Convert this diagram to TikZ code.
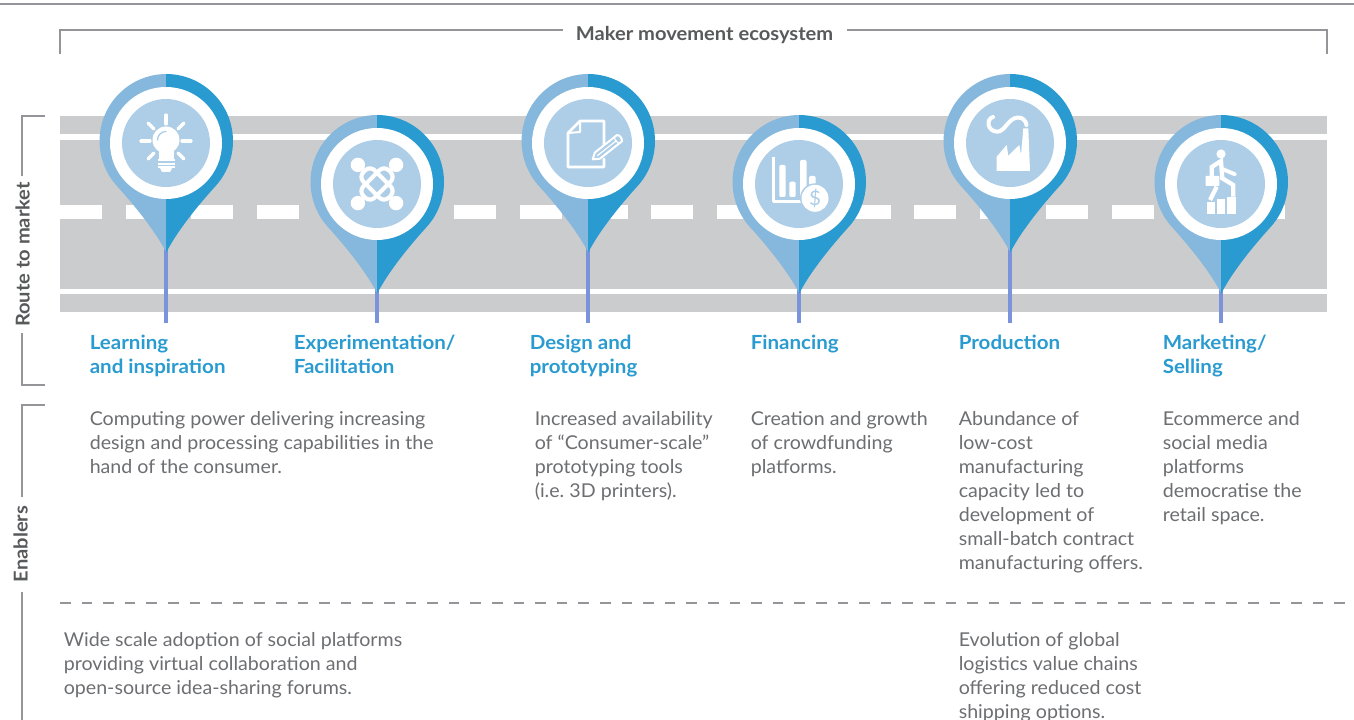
\documentclass[tikz,border=0pt]{standalone}
\usepackage{fontspec}
\setmainfont[FakeStretch=1.03]{Lato}
\newfontfamily\widefont[FakeStretch=1.055]{Lato}
\frenchspacing
\definecolor{roadgray}{HTML}{CBCCCE}
\definecolor{pinlight}{HTML}{85B8DC}
\definecolor{pindark}{HTML}{2A9BD0}
\definecolor{pininner}{HTML}{AECEE8}
\definecolor{stemblue}{HTML}{7B93DB}
\definecolor{titlegray}{HTML}{58595B}
\definecolor{bodygray}{HTML}{6D6E71}
\definecolor{rulegray}{HTML}{939598}
\newcommand\firstline{\rule{0pt}{10.5pt}}
\tikzset{
  road/.style={fill=roadgray,draw=none},
  dashmark/.style={fill=white,draw=none},
  stemline/.style={draw=stemblue,line width=2.6pt},
  bracket/.style={draw=rulegray,line width=1.3pt},
  sectitle/.style={inner sep=0pt,text=titlegray,font=\widefont\fontsize{14.3pt}{18pt}\selectfont\bfseries},
  heading/.style={anchor=north west,align=left,inner sep=0pt,text=pindark,font=\widefont\fontsize{14.6pt}{18pt}\selectfont\bfseries},
  bodytext/.style={anchor=north west,align=left,inner sep=0pt,text=bodygray,font=\fontsize{14.3pt}{18pt}\selectfont},
  iconline/.style={draw=white,line width=2.4pt,line cap=round,line join=round},
  iconthin/.style={draw=white,line width=1.5pt,line cap=round,line join=round},
  iconfill/.style={fill=white,draw=none}
}
\newcommand\halfpin{(0,-69) arc (-90:43:67) .. controls (27,68) and (9,92) .. (0,110) -- cycle}
\newcommand\drawpin[4]{%
  \coordinate (tip#1) at (#2,#3+100);
  \coordinate (foot#1) at (#2,323);
  \draw[stemline] (tip#1) -- (foot#1);
  \begin{scope}[shift={(#2,#3)}]
    \begin{scope}[xscale=-1,xshift=-0.4]
      \fill[pinlight] \halfpin;
    \end{scope}
    \fill[pindark] \halfpin;
    \fill[white] (0,0) circle (56);
    \fill[pininner] (0,0) circle (44);
    #4
  \end{scope}}
\begin{document}
\begin{tikzpicture}[x=0.75pt,y=-0.75pt]
\useasboundingbox (0,0) rectangle (1354,720);
% top rule
\coordinate (ruleL) at (0,4);
\coordinate (ruleR) at (1354,4);
\draw[draw=rulegray,line width=1.3pt] (ruleL) -- (ruleR);
% ecosystem bracket
\node[sectitle] (eco) at (704.5,35) {Maker movement ecosystem};
\coordinate (ecoL) at (60,54);
\coordinate (ecoLt) at (60,30);
\coordinate (ecoR) at (1327,54);
\coordinate (ecoRt) at (1327,30);
\draw[bracket] (ecoL) -- (ecoLt) -- (563,30);
\draw[bracket] (847,30) -- (ecoRt) -- (ecoR);
% road
\fill[road] (60,116) rectangle (1327,134);
\fill[road] (60,140) rectangle (1327,289);
\fill[road] (60,294) rectangle (1327,312);
\foreach \k in {0,...,18}{
  \fill[dashmark] ({60+65.72*\k},205) rectangle ({102+65.72*\k},219);
}
% side brackets
\node[sectitle,rotate=90] (route) at (22.5,254.5) {Route to market};
\draw[bracket] (45,116) -- (22,116) -- (22,176);
\draw[bracket] (22,333) -- (22,385) -- (45,385);
\node[sectitle,rotate=90] (enab) at (20.5,544) {Enablers};
\draw[bracket] (45,405) -- (22,405) -- (22,497);
\draw[bracket] (22,592) -- (22,720);
% dashed separator
\coordinate (sepL) at (60,603);
\coordinate (sepR) at (1354,603);
\draw[draw=rulegray,line width=1.2pt,dash pattern=on 8pt off 8.2pt] (sepL) -- (sepR);
% pins
\drawpin{1}{166}{143}{%
  \fill[white] (0,-3) circle (13.5);
  \fill[white] (-7.5,6) rectangle (7.5,16);
  \draw[pininner,line width=1pt,line cap=round] (-8.5,-3) arc (180:270:8.5);
  \foreach \yy in {17.5,21,24.5}{\draw[white,line width=1.5pt] (-8.5,\yy) -- (8.5,\yy);}
  \fill[white] (-6,25) -- (6,25) -- (4,29) -- (-4,29) -- cycle;
  \draw[iconline] (0,-28) -- (0,-19);
  \draw[iconline] (-25,-2) -- (-16,-2);
  \draw[iconline] (25,-2) -- (16,-2);
  \draw[iconline] (-18,-20) -- (-12,-14);
  \draw[iconline] (18,-20) -- (12,-14);
  \draw[iconline] (-18,16) -- (-12,10);
  \draw[iconline] (18,16) -- (12,10);
}
\drawpin{2}{377}{184}{%
  \begin{scope}[rotate=45]
    \draw[iconline,line width=3.1pt,rounded corners=5pt] (-8,-18) rectangle (8,18);
    \draw[iconline,line width=3.1pt,rounded corners=5pt] (-18,-8) rectangle (18,8);
    \foreach \a/\b in {27/0,-27/0,0/27,0/-27}{\fill[white] (\a,\b) circle (7.2);}
  \end{scope}
}
\drawpin{3}{588}{143}{%
  \draw[iconthin,line width=2pt] (16,3) -- (16,-22) -- (-8,-22) -- (-20,-10) -- (-20,24) -- (16,24) -- (16,16);
  \draw[iconthin] (-8,-22) -- (-8,-11) -- (-20,-10);
  \fill[pininner] (4.7,16.3) -- (6.9,9.5) -- (28.8,-7.8) -- (33.8,-1.6) -- (11.9,15.7) -- cycle;
  \draw[iconthin] (4.7,16.3) -- (6.9,9.5) -- (28.8,-7.8) .. controls (31,-9) and (35,-4) .. (33.8,-1.6) -- (11.9,15.7) -- cycle;
  \draw[iconthin,line width=0.9pt] (9.4,12.6) -- (28.2,-2.2);
  \draw[iconthin,line width=0.9pt] (30.7,0.9) -- (25.7,-5.3);
}
\drawpin{4}{799}{184}{%
  \draw[iconthin,line width=2pt,line cap=butt] (-25.7,-27.3) -- (-25.7,17.7) -- (3,17.7);
  \fill[white,rounded corners=1pt] (-19.7,13) rectangle (-13.3,-19);
  \fill[white,rounded corners=1pt] (-9.7,13) rectangle (-3.3,-2.3);
  \fill[white,rounded corners=1pt] (1,13) rectangle (7.5,-24);
  \fill[white,rounded corners=1pt] (10,13) rectangle (16.7,-8);
  \fill[pininner] (16,14.3) circle (15);
  \fill[white] (16,14.3) circle (13.5);
  \node[inner sep=0pt,text=pininner,font=\fontsize{15pt}{15pt}\selectfont] (dollar) at (16,14.3) {\$};
}
\drawpin{5}{1010}{143}{%
  \fill[white] (-13.3,28) -- (-13.3,13.7) -- (-3.3,2) -- (-1.7,12.7) -- (9.3,2) -- (11,12) -- (13.3,-14.7) -- (18.3,-14.7) -- (20,28) -- cycle;
  \draw[iconline,line width=3pt] (-17,-26) .. controls (-24,-24) and (-23,-12) .. (-13,-11.3) .. controls (-5,-11) and (-2,-25) .. (8,-25.5) .. controls (13,-25.5) and (16,-22) .. (16.5,-18);
}
\drawpin{6}{1221}{184}{%
  \fill[white] (0,-30) circle (4.6);
  \draw[iconline,line width=3.2pt,line cap=butt,line join=miter] (-9.3,-8) -- (-9.3,-17) -- (0,-23) -- (1.3,-5.7) -- (12.3,1) -- (12.3,12.7);
  \draw[iconline,line width=2.9pt] (1.3,-15) -- (14,-9.7);
  \draw[iconline,line width=3.2pt,line cap=butt] (-4.3,2.7) -- (-11,16);
  \fill[white,rounded corners=0.5pt] (-15.3,-8) rectangle (-1.7,2);
  \fill[white] (-13.7,17.7) rectangle (-6,30);
  \fill[white] (-4.3,15.3) rectangle (4.3,30);
  \fill[white] (5.7,12.7) rectangle (15,30);
}
% headings
\node[heading] (h1) at (89.5,335) {\firstline Learning\\and inspiration};
\node[heading] (h2) at (293.5,335) {\firstline Experimentation/\\Facilitation};
\node[heading] (h3) at (529.5,335) {\firstline Design and\\prototyping};
\node[heading] (h4) at (750.5,335) {\firstline Financing};
\node[heading] (h5) at (958.5,335) {\firstline Production};
\node[heading] (h6) at (1162.5,335) {\firstline Marketing/\\Selling};
% enablers, first row
\node[bodytext] (b1) at (89.5,411) {\firstline Computing power delivering increasing\\design and processing capabilities in the\\hand of the consumer.};
\node[bodytext] (b3) at (534.5,411) {\firstline Increased availability\\of “Consumer-scale”\\prototyping tools\\(i.e. 3D printers).};
\node[bodytext] (b4) at (750.5,411) {\firstline Creation and growth\\of crowdfunding\\platforms.};
\node[bodytext] (b5) at (958.5,411) {\firstline Abundance of\\low-cost\\manufacturing\\capacity led to\\development of\\small-batch contract\\manufacturing offers.};
\node[bodytext] (b6) at (1162.5,411) {\firstline Ecommerce and\\social media\\platforms\\democratise the\\retail space.};
% enablers, second row
\node[bodytext] (c1) at (63.5,632) {\firstline Wide scale adoption of social platforms\\providing virtual collaboration and\\open-source idea-sharing forums.};
\node[bodytext] (c5) at (958.5,632) {\firstline Evolution of global\\logistics value chains\\offering reduced cost\\shipping options.};
\end{tikzpicture}
\end{document}
